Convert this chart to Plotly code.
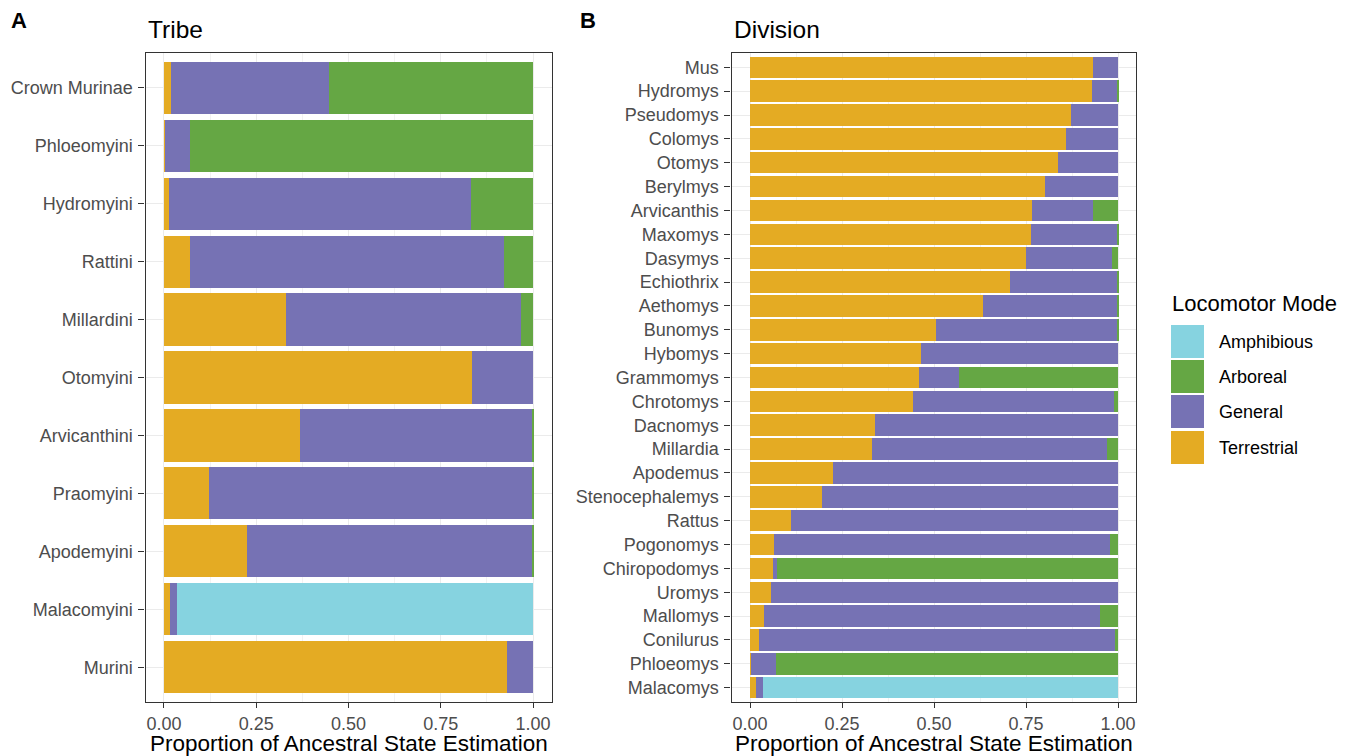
import plotly.graph_objects as go

W, H = 1352, 756

# ---------------- data ----------------
modes = ["Terrestrial", "General", "Arboreal", "Amphibious"]
mode_colors = {"Amphibious": "#86D3E0", "Arboreal": "#65A744",
               "General": "#7672B4", "Terrestrial": "#E4AB23"}
legend_order = ["Amphibious", "Arboreal", "General", "Terrestrial"]

tribes = ["Crown Murinae", "Phloeomyini", "Hydromyini", "Rattini", "Millardini",
          "Otomyini", "Arvicanthini", "Praomyini", "Apodemyini", "Malacomyini", "Murini"]
tribe_terr = [0.019, 0.003, 0.014, 0.070, 0.331, 0.835, 0.369, 0.122, 0.225, 0.016, 0.930]
tribe_gen = [0.428, 0.067, 0.818, 0.851, 0.636, 0.165, 0.628, 0.876, 0.772, 0.019, 0.070]
tribe_arb = [0.553, 0.930, 0.168, 0.079, 0.033, 0.0, 0.003, 0.002, 0.003, 0.0, 0.0]
tribe_amph = [0, 0, 0, 0, 0, 0, 0, 0, 0, 0.965, 0]

divisions = ["Mus", "Hydromys", "Pseudomys", "Colomys", "Otomys", "Berylmys",
             "Arvicanthis", "Maxomys", "Dasymys", "Echiothrix", "Aethomys", "Bunomys",
             "Hybomys", "Grammomys", "Chrotomys", "Dacnomys", "Millardia", "Apodemus",
             "Stenocephalemys", "Rattus", "Pogonomys", "Chiropodomys", "Uromys",
             "Mallomys", "Conilurus", "Phloeomys", "Malacomys"]
div_terr = [0.932, 0.929, 0.872, 0.859, 0.837, 0.802, 0.766, 0.764, 0.750, 0.707,
            0.633, 0.505, 0.465, 0.459, 0.443, 0.340, 0.332, 0.226, 0.196, 0.111,
            0.065, 0.062, 0.057, 0.038, 0.024, 0.003, 0.016]
div_gen = [0.068, 0.069, 0.128, 0.141, 0.163, 0.198, 0.166, 0.234, 0.234, 0.291,
           0.364, 0.493, 0.535, 0.109, 0.546, 0.660, 0.638, 0.774, 0.804, 0.889,
           0.913, 0.011, 0.943, 0.913, 0.968, 0.067, 0.019]
div_arb = [0, 0.002, 0, 0, 0, 0, 0.068, 0.002, 0.016, 0.002,
           0.003, 0.002, 0, 0.432, 0.011, 0, 0.030, 0, 0, 0,
           0.022, 0.927, 0, 0.049, 0.008, 0.930, 0]
div_amph = [0] * 26 + [0.965]

x_ticks = [0, 0.25, 0.5, 0.75, 1.0]
x_ticklabels = ["0.00", "0.25", "0.50", "0.75", "1.00"]

# ---------------- helpers ----------------
def px(x):
    return x / W

def py(y):
    return 1 - y / H

FONT = "Liberation Sans, Arial, Helvetica, sans-serif"

fig = go.Figure()

tribe_vals = {"Terrestrial": tribe_terr, "General": tribe_gen,
              "Arboreal": tribe_arb, "Amphibious": tribe_amph}
div_vals = {"Terrestrial": div_terr, "General": div_gen,
            "Arboreal": div_arb, "Amphibious": div_amph}

for m in modes:
    fig.add_trace(go.Bar(x=tribe_vals[m], y=tribes, orientation="h", name=m,
                         marker=dict(color=mode_colors[m], line=dict(width=0)),
                         xaxis="x", yaxis="y", showlegend=False))
for m in modes:
    fig.add_trace(go.Bar(x=div_vals[m], y=divisions, orientation="h", name=m,
                         marker=dict(color=mode_colors[m], line=dict(width=0)),
                         xaxis="x2", yaxis="y2", showlegend=False))

# panel geometry (px)
A_x0, A_x1 = 145.5, 551.5
B_x0, B_x1 = 731.6, 1136.4
P_y0, P_y1 = 53, 702

xcommon = dict(range=[-0.05, 1.05], tickvals=x_ticks, ticktext=x_ticklabels,
               showgrid=True, gridcolor="#EBEBEB", gridwidth=1.2,
               minor=dict(tickvals=[0.125, 0.375, 0.625, 0.875], showgrid=True,
                          gridcolor="#F2F2F2", gridwidth=0.6),
               zeroline=False, showline=True, linecolor="#333333", linewidth=1.3,
               mirror=True, ticks="outside", ticklen=5, tickcolor="#333333",
               tickwidth=1.2, tickfont=dict(family=FONT, size=18, color="#4D4D4D"),
               fixedrange=True)
ycommon = dict(type="category", showgrid=True, gridcolor="#EBEBEB", gridwidth=1.2,
               zeroline=False, showline=True, linecolor="#333333", linewidth=1.3,
               mirror=True, ticks="outside", ticklen=6, tickcolor="#333333",
               tickwidth=1.2, tickfont=dict(family=FONT, size=18, color="#4D4D4D"),
               ticklabelstandoff=2, fixedrange=True)

fig.update_layout(
    width=W, height=H,
    margin=dict(l=0, r=0, t=0, b=0),
    paper_bgcolor="white", plot_bgcolor="white",
    barmode="stack", bargap=0.1,
    font=dict(family=FONT, color="black"),
    xaxis=dict(domain=[px(A_x0), px(A_x1)], anchor="y", **xcommon),
    yaxis=dict(domain=[py(P_y1), py(P_y0)], anchor="x",
               categoryorder="array", categoryarray=tribes,
               range=[len(tribes) - 0.4, -0.6], **ycommon),
    xaxis2=dict(domain=[px(B_x0), px(B_x1)], anchor="y2", **xcommon),
    yaxis2=dict(domain=[py(P_y1), py(P_y0)], anchor="x2",
                categoryorder="array", categoryarray=divisions,
                range=[len(divisions) - 0.4, -0.6], **ycommon),
)

annotations = [
    dict(text="<b>A</b>", x=px(9), y=py(20), xanchor="left", yanchor="middle",
         font=dict(size=22, family=FONT, color="black")),
    dict(text="<b>B</b>", x=px(578), y=py(20), xanchor="left", yanchor="middle",
         font=dict(size=22, family=FONT, color="black")),
    dict(text="Tribe", x=px(146), y=py(29), xanchor="left", yanchor="middle",
         font=dict(size=24.5, family=FONT, color="black")),
    dict(text="Division", x=px(732), y=py(29), xanchor="left", yanchor="middle",
         font=dict(size=24.5, family=FONT, color="black")),
    dict(text="Proportion of Ancestral State Estimation", x=px((A_x0 + A_x1) / 2),
         y=py(743), xanchor="center", yanchor="middle",
         font=dict(size=22.5, family=FONT, color="black")),
    dict(text="Proportion of Ancestral State Estimation", x=px((B_x0 + B_x1) / 2),
         y=py(743), xanchor="center", yanchor="middle",
         font=dict(size=22.5, family=FONT, color="black")),
    dict(text="Locomotor Mode", x=px(1170), y=py(303), xanchor="left", yanchor="middle",
         font=dict(size=22, family=FONT, color="black")),
]

shapes = []
sw_top = [325, 360, 395, 431]
for i, m in enumerate(legend_order):
    t = sw_top[i]
    shapes.append(dict(type="rect", xref="paper", yref="paper",
                       x0=px(1171), x1=px(1204), y0=py(t + 33), y1=py(t),
                       fillcolor=mode_colors[m], line=dict(width=0)))
    annotations.append(dict(text=m, x=px(1217), y=py(t + 17), xanchor="left",
                            yanchor="middle",
                            font=dict(size=18, family=FONT, color="black")))

for a in annotations:
    a.update(xref="paper", yref="paper", showarrow=False)

fig.update_layout(annotations=annotations, shapes=shapes)

fig.write_html(
    "out.html",
    config={"displayModeBar": False},
    post_script="document.body.style.margin='0';document.body.style.padding='0';"
                "document.body.style.overflow='hidden';",
)
